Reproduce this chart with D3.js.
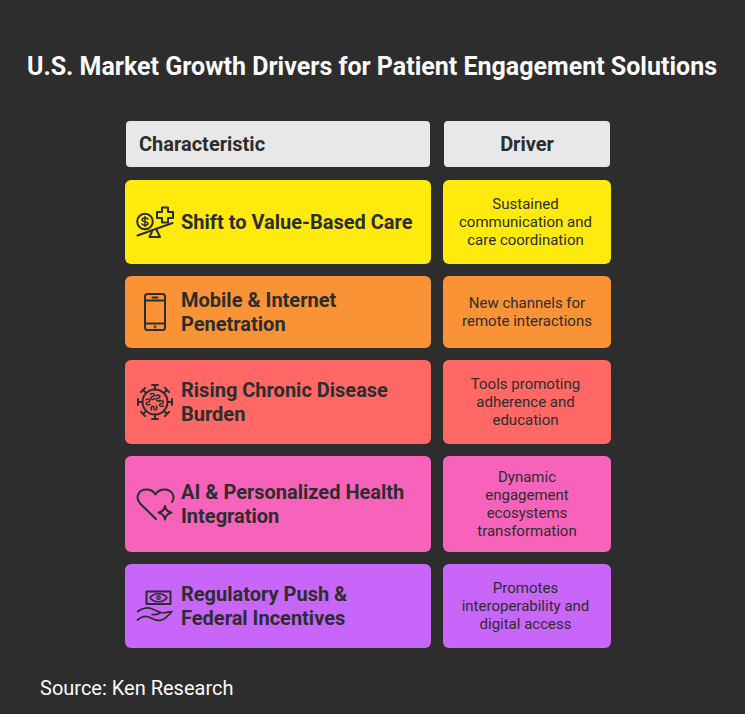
<!DOCTYPE html>
<html>
<head>
<meta charset="utf-8">
<script src="https://cdn.jsdelivr.net/npm/d3@7"></script>
<style>
html,body{margin:0;padding:0;background:#2d2d2d;}
svg{display:block;font-family:Roboto,sans-serif;}
.icon *{fill:none;stroke:#2d2d2d;stroke-width:2;stroke-linecap:round;stroke-linejoin:round;}
</style>
</head>
<body>
<svg id="chart" width="745" height="714"></svg>
<script>
var titleText="U.S. Market Growth Drivers for Patient Engagement Solutions";
var sourceText="Source: Ken Research";
var headers=["Characteristic","Driver"];
var characteristics=[
    ["Shift to Value-Based Care"],
    ["Mobile & Internet","Penetration"],
    ["Rising Chronic Disease","Burden"],
    ["AI & Personalized Health","Integration"],
    ["Regulatory Push &","Federal Incentives"]];
var drivers=[
    ["Sustained","communication and","care coordination"],
    ["New channels for","remote interactions"],
    ["Tools promoting","adherence and","education"],
    ["Dynamic","engagement","ecosystems","transformation"],
    ["Promotes","interoperability and","digital access"]];
var rowColors=["#FFEA0E","#F99335","#FF6864","#F763BB","#C966FA"];

var svg=d3.select("#chart");
var ink="#2d2d2d";

// row height follows the number of lines in the driver column
var heights=drivers.map(function(d){return 48+12*d.length;});
var tops=[180];
heights.forEach(function(h,i){tops.push(tops[i]+h+12);});

svg.append("text")
    .attr("x",372).attr("y",66).attr("dy","0.35em")
    .attr("text-anchor","middle")
    .attr("font-size",25).attr("font-weight",700)
    .attr("fill","#fafafa")
    .text(titleText);

//header
svg.append("rect").attr("x",126).attr("y",121).attr("width",304).attr("height",46).attr("rx",4).attr("fill","#e8e8e8");
svg.append("rect").attr("x",444).attr("y",121).attr("width",166).attr("height",46).attr("rx",4).attr("fill","#e8e8e8");
svg.append("text").attr("x",139).attr("y",144).attr("dy","0.35em")
    .attr("font-size",20).attr("font-weight",700).attr("fill",ink).text(headers[0]);
svg.append("text").attr("x",527).attr("y",144).attr("dy","0.35em").attr("text-anchor","middle")
    .attr("font-size",20).attr("font-weight",700).attr("fill",ink).text(headers[1]);

var rows=svg.selectAll(".row").data(characteristics).enter().append("g").attr("class","row");

rows.append("rect").attr("x",125).attr("y",function(d,i){return tops[i];})
    .attr("width",306).attr("height",function(d,i){return heights[i];})
    .attr("rx",6).attr("fill",function(d,i){return rowColors[i];});
rows.append("rect").attr("x",443).attr("y",function(d,i){return tops[i];})
    .attr("width",168).attr("height",function(d,i){return heights[i];})
    .attr("rx",6).attr("fill",function(d,i){return rowColors[i];});

rows.each(function(d,i){
    var mid=tops[i]+heights[i]/2;
    var g=d3.select(this);
    d.forEach(function(line,k){
        g.append("text").attr("x",181)
            .attr("y",mid+(k-(d.length-1)/2)*24).attr("dy","0.35em")
            .attr("font-size",20).attr("font-weight",700).attr("fill",ink)
            .text(line);
    });
    drivers[i].forEach(function(line,k){
        g.append("text").attr("x",i%2 ? 527 : 525.5)
            .attr("y",mid+(k-(drivers[i].length-1)/2)*18).attr("dy","0.35em")
            .attr("text-anchor","middle")
            .attr("font-size",15).attr("fill",ink)
            .text(line);
    });
});

svg.append("text").attr("x",40).attr("y",688).attr("dy","0.35em")
    .attr("font-size",20).attr("fill","#fafafa").text(sourceText);

//icons
var icons=svg.append("g").attr("class","icon");

// scale with coin and cross
var scaleIcon=icons.append("g");
scaleIcon.append("circle").attr("cx",145).attr("cy",221.5).attr("r",7.8);
scaleIcon.append("path").style("stroke-width",1.5)
    .attr("d","M148 219.2C147 217.6 142.2 217.6 142.2 220C142.2 222.3 148 221 148 223.4C148 225.6 143 225.5 142 223.8M145 216.5V226.5");
scaleIcon.append("path").attr("d","M162 207.5H168V212H173V218H168V222.5H162V218H157V212H162Z");
scaleIcon.append("path").attr("d","M137.5 235.5L172.5 223");
scaleIcon.append("path").attr("d","M152 231.5L149.5 237H160L156.5 229.8");

// phone
var phone=icons.append("g");
phone.append("rect").attr("x",145).attr("y",294).attr("width",20).attr("height",36).attr("rx",2.5);
phone.append("path").attr("d","M145 300.5H165M145 323.5H165M152.5 297.5H157.5");
phone.append("circle").attr("cx",155).attr("cy",327).attr("r",0.4);

// virus
var virus=icons.append("g").attr("transform","translate(155,402)");
virus.append("circle").attr("r",12.5);
d3.range(8).forEach(function(i){
    virus.append("path").attr("transform","rotate("+(i*45)+")")
        .attr("d","M0 -12.5V-17M-3 -17H3");
});
[[-7,0,0],[-2.5,-5.5,0],[3,-4,0],[6.5,1.5,0],[-1,6,90]].forEach(function(s){
    virus.append("path")
        .attr("transform","translate("+s[0]+","+s[1]+") rotate("+s[2]+")")
        .attr("d","M-2 -2.2C0 -3.8 3 -2.4 1.4 -0.4L-1.4 0.6C-3 2.4 0 3.8 2 2.2")
        .style("stroke-width",1.5);
});

// heart with sparkle
var heart=icons.append("g");
heart.append("path").attr("d","M156 519L140.5 504C134.5 497.5 138.5 489.5 146.5 489.5C151 489.5 154 492 155.5 494.5C157 492 160.5 489.5 164.5 489.5C172.5 489.5 175.5 497 172 502");
heart.append("path").attr("d","M165 506C165.6 510 167.5 512 171.5 512.7C167.5 513.4 165.6 515.4 165 519.5C164.4 515.4 162.5 513.4 158.5 512.7C162.5 512 164.4 510 165 506Z");

// hand with banknote
var hand=icons.append("g");
hand.append("rect").attr("x",146.5).attr("y",591.5).attr("width",24).attr("height",12.5);
hand.append("path").attr("d","M150 597.7C154 592.5 163 592.5 167 597.7C163 603 154 603 150 597.7Z").style("stroke-width",1.6);
hand.append("circle").attr("cx",158.5).attr("cy",597.7).attr("r",1.6).style("stroke-width",1.5);
hand.append("path").style("stroke-width",1.7).attr("d","M137.5 611.5C143 608 147 607 151 608.5C154 609.8 158 611.5 160.5 612.5C164 613.5 168 612 172 611.5C169 615 165 619 161 620.3C157 621 153.5 619.5 150 617.5C146 615.5 141 617 137.5 620");
hand.append("path").style("stroke-width",1.7).attr("d","M152 614.5C155 615 158 614.8 160.5 612.5");
</script>
</body>
</html>
